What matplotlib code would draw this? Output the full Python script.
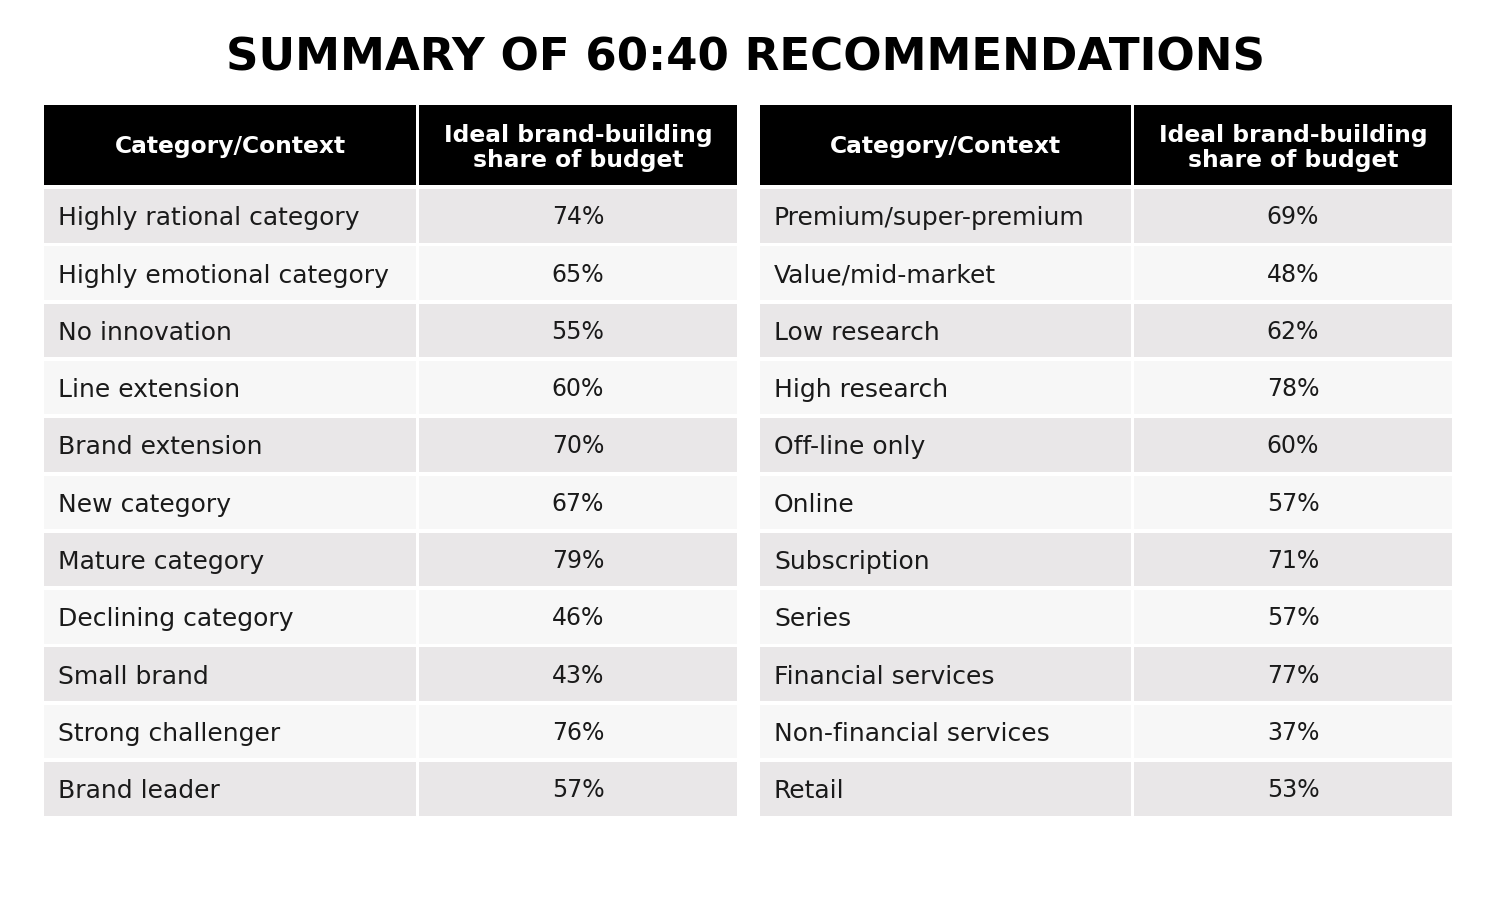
import matplotlib
matplotlib.use("Agg")
import matplotlib.pyplot as plt
from matplotlib.patches import Rectangle

title = "SUMMARY OF 60:40 RECOMMENDATIONS"
header_left = "Category/Context"
header_right = "Ideal brand-building\nshare of budget"

left_categories = ["Highly rational category", "Highly emotional category", "No innovation",
                   "Line extension", "Brand extension", "New category", "Mature category",
                   "Declining category", "Small brand", "Strong challenger", "Brand leader"]
left_values = [74, 65, 55, 60, 70, 67, 79, 46, 43, 76, 57]

right_categories = ["Premium/super-premium", "Value/mid-market", "Low research", "High research",
                    "Off-line only", "Online", "Subscription", "Series", "Financial services",
                    "Non-financial services", "Retail"]
right_values = [69, 48, 62, 78, 60, 57, 71, 57, 77, 37, 53]

FONT = "DejaVu Sans"
HEADER_BG = "#000000"
ODD_BG = "#E9E7E8"
EVEN_BG = "#F7F7F7"

fig = plt.figure(figsize=(15, 9.12), dpi=100)
ax = fig.add_axes([0, 0, 1, 1])
ax.set_xlim(0, 1500)
ax.set_ylim(912, 0)
ax.axis("off")

ax.text(745, 58, title, ha="center", va="center", fontsize=32.5, fontweight="bold",
        family=FONT, color="#000000")

def draw_table(x0, xsplit, x1, cats, vals):
    gap = 3
    head_top, head_bot = 106, 186
    ax.add_patch(Rectangle((x0, head_top), xsplit - x0, head_bot - head_top, color=HEADER_BG, lw=0))
    ax.add_patch(Rectangle((xsplit + gap, head_top), x1 - xsplit - gap, head_bot - head_top, color=HEADER_BG, lw=0))
    ax.text((x0 + xsplit) / 2, 147, header_left, ha="center", va="center", color="white",
            fontsize=16.8, fontweight="bold", family=FONT)
    ax.text((xsplit + gap + x1) / 2, 148, header_right, ha="center", va="center", color="white",
            fontsize=16.8, fontweight="bold", family=FONT, linespacing=1.15)
    row_top0 = 190
    pitch = 57.3
    row_h = 53.5
    for i, (c, v) in enumerate(zip(cats, vals)):
        top = row_top0 + i * pitch
        bg = ODD_BG if i % 2 == 0 else EVEN_BG
        ax.add_patch(Rectangle((x0, top), xsplit - x0, row_h, color=bg, lw=0))
        ax.add_patch(Rectangle((xsplit + gap, top), x1 - xsplit - gap, row_h, color=bg, lw=0))
        cy = top + row_h / 2 + 1.5
        ax.text(x0 + 14, cy, c, ha="left", va="center", fontsize=18, family=FONT, color="#1a1a1a")
        ax.text((xsplit + gap + x1) / 2, cy - 1, f"{v}%", ha="center", va="center", fontsize=17,
                family=FONT, color="#1a1a1a")

draw_table(44, 416, 737, left_categories, left_values)
draw_table(760, 1131, 1452, right_categories, right_values)

fig.savefig("out.png", dpi=100, facecolor="white")
